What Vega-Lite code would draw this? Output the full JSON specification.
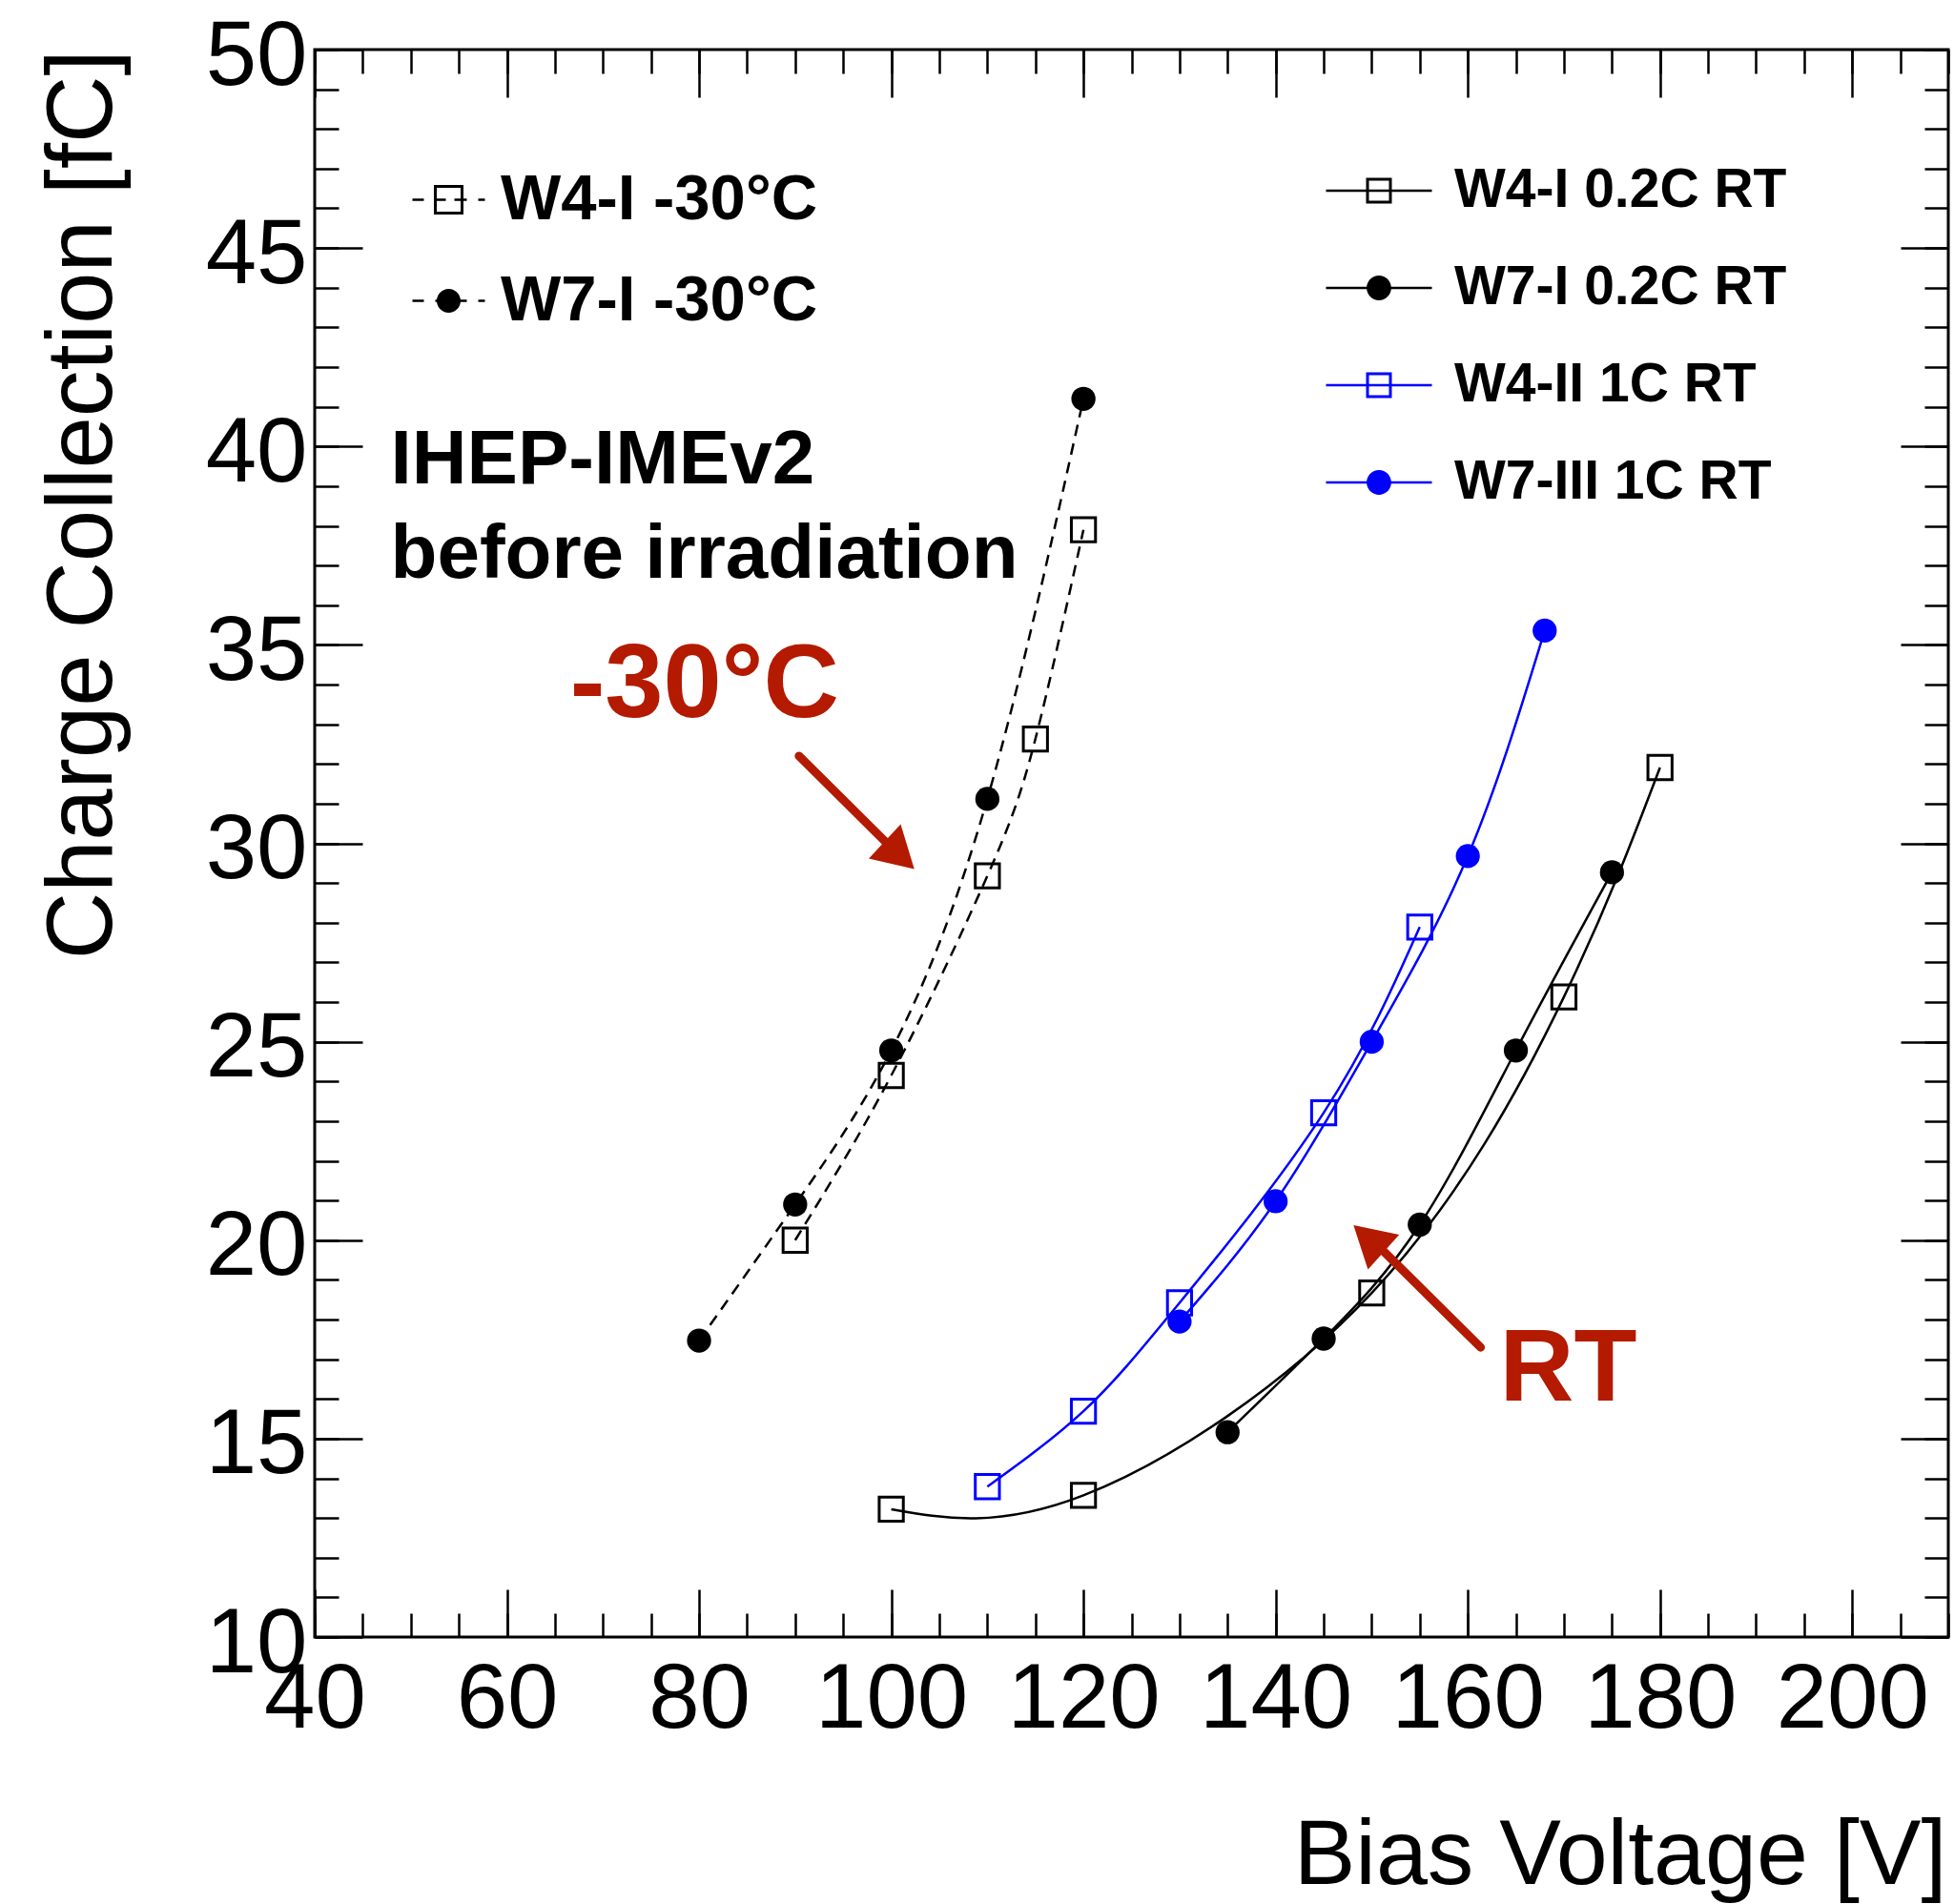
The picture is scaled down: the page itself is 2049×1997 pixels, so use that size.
{
  "$schema": "https://vega.github.io/schema/vega-lite/v6.json",
  "width": 1713,
  "height": 1665,
  "autosize": {"type": "none"},
  "padding": {"left": 330, "top": 52, "right": 6, "bottom": 280},
  "background": "white",
  "config": {
    "view": {"stroke": "black", "strokeWidth": 3},
    "axis": {"grid": false, "labelColor": "black", "titleColor": "black", "tickColor": "black", "labelFont": "Liberation Sans", "titleFont": "Liberation Sans"}
  },
  "data": {
    "values": [
      {"s": "W7-I -30°C", "V": 80, "Q": 17.47},
      {"s": "W7-I -30°C", "V": 90, "Q": 20.9},
      {"s": "W7-I -30°C", "V": 100, "Q": 24.78},
      {"s": "W7-I -30°C", "V": 110, "Q": 31.12},
      {"s": "W7-I -30°C", "V": 120, "Q": 41.2},
      {"s": "W4-I -30°C", "V": 90, "Q": 20.0},
      {"s": "W4-I -30°C", "V": 100, "Q": 24.15},
      {"s": "W4-I -30°C", "V": 110, "Q": 29.18},
      {"s": "W4-I -30°C", "V": 115, "Q": 32.63},
      {"s": "W4-I -30°C", "V": 120, "Q": 37.9},
      {"s": "W4-I 0.2C RT", "V": 100, "Q": 13.22},
      {"s": "W4-I 0.2C RT", "V": 120, "Q": 13.57},
      {"s": "W4-I 0.2C RT", "V": 150, "Q": 18.67},
      {"s": "W4-I 0.2C RT", "V": 170, "Q": 26.13},
      {"s": "W4-I 0.2C RT", "V": 180, "Q": 31.91},
      {"s": "W7-I 0.2C RT", "V": 135, "Q": 15.16},
      {"s": "W7-I 0.2C RT", "V": 145, "Q": 17.52},
      {"s": "W7-I 0.2C RT", "V": 155, "Q": 20.39},
      {"s": "W7-I 0.2C RT", "V": 165, "Q": 24.78},
      {"s": "W7-I 0.2C RT", "V": 175, "Q": 29.27},
      {"s": "W4-II 1C RT", "V": 110, "Q": 13.79},
      {"s": "W4-II 1C RT", "V": 120, "Q": 15.69},
      {"s": "W4-II 1C RT", "V": 130, "Q": 18.42},
      {"s": "W4-II 1C RT", "V": 145, "Q": 23.21},
      {"s": "W4-II 1C RT", "V": 155, "Q": 27.89},
      {"s": "W7-III 1C RT", "V": 130, "Q": 17.95},
      {"s": "W7-III 1C RT", "V": 140, "Q": 20.98},
      {"s": "W7-III 1C RT", "V": 150, "Q": 25.0},
      {"s": "W7-III 1C RT", "V": 160, "Q": 29.68},
      {"s": "W7-III 1C RT", "V": 168, "Q": 35.36}
    ]
  },
  "resolve": {
    "axis": {"x": "independent", "y": "independent"},
    "scale": {"shape": "independent", "color": "independent"}
  },
  "layer": [
    {
      "transform": [{"filter": {"field": "s", "oneOf": ["W4-I -30°C", "W7-I -30°C"]}}],
      "mark": {"type": "line", "interpolate": "natural", "color": "black", "strokeWidth": 2.5, "strokeDash": [12, 8]},
      "encoding": {
        "x": {"field": "V", "type": "quantitative", "scale": {"domain": [40, 210], "nice": false, "zero": false},
          "axis": {"orient": "bottom", "values": [40, 60, 80, 100, 120, 140, 160, 180, 200], "ticks": false, "domain": false,
            "labelFontSize": 96, "labelPadding": 18, "labelFlush": false, "labelOverlap": false, "labelBound": false, "labelBaseline": "top",
            "title": "Bias Voltage [V]", "titleFontSize": 97, "titleFontWeight": "normal", "titleAnchor": "end", "titleAlign": "right",
            "titleBaseline": "alphabetic", "titleX": 1711, "titleY": 258, "titleAngle": 0}},
        "y": {"field": "Q", "type": "quantitative", "scale": {"domain": [10, 50], "nice": false, "zero": false},
          "axis": {"orient": "left", "values": [10, 15, 20, 25, 30, 35, 40, 45, 50], "ticks": false, "domain": false,
            "labelFontSize": 96, "labelPadding": 8, "labelFlush": false, "labelOverlap": false, "labelBound": false, "labelBaseline": "middle", "labelOffset": 7,
            "title": "Charge Collection [fC]", "titleFontSize": 97.5, "titleFontWeight": "normal", "titleAngle": 270, "titleAlign": "right",
            "titleBaseline": "alphabetic", "titleX": -214, "titleY": 0}},
        "detail": {"field": "s"}
      }
    },
    {
      "transform": [{"filter": {"field": "s", "oneOf": ["W4-I 0.2C RT", "W7-I 0.2C RT"]}}],
      "mark": {"type": "line", "interpolate": "natural", "color": "black", "strokeWidth": 2.5},
      "encoding": {
        "x": {"field": "V", "type": "quantitative", "scale": {"domain": [40, 210], "nice": false, "zero": false},
          "axis": {"orient": "bottom", "values": [40, 60, 80, 100, 120, 140, 160, 180, 200], "ticks": true, "tickSize": -50, "tickWidth": 2.5, "labels": false, "domain": false, "title": null}},
        "y": {"field": "Q", "type": "quantitative", "scale": {"domain": [10, 50], "nice": false, "zero": false},
          "axis": {"orient": "left", "values": [10, 15, 20, 25, 30, 35, 40, 45, 50], "ticks": true, "tickSize": -50, "tickWidth": 2.5, "labels": false, "domain": false, "title": null}},
        "detail": {"field": "s"}
      }
    },
    {
      "transform": [{"filter": {"field": "s", "oneOf": ["W4-II 1C RT", "W7-III 1C RT"]}}],
      "mark": {"type": "line", "interpolate": "natural", "color": "#0000ff", "strokeWidth": 2.5},
      "encoding": {
        "x": {"field": "V", "type": "quantitative", "scale": {"domain": [40, 210], "nice": false, "zero": false},
          "axis": {"orient": "bottom", "values": [40, 45, 50, 55, 60, 65, 70, 75, 80, 85, 90, 95, 100, 105, 110, 115, 120, 125, 130, 135, 140, 145, 150, 155, 160, 165, 170, 175, 180, 185, 190, 195, 200, 205, 210], "ticks": true, "tickSize": -25, "tickWidth": 2.5, "labels": false, "domain": false, "title": null}},
        "y": {"field": "Q", "type": "quantitative", "scale": {"domain": [10, 50], "nice": false, "zero": false},
          "axis": {"orient": "left", "values": [10, 11, 12, 13, 14, 15, 16, 17, 18, 19, 20, 21, 22, 23, 24, 25, 26, 27, 28, 29, 30, 31, 32, 33, 34, 35, 36, 37, 38, 39, 40, 41, 42, 43, 44, 45, 46, 47, 48, 49, 50], "ticks": true, "tickSize": -25, "tickWidth": 2.5, "labels": false, "domain": false, "title": null}},
        "detail": {"field": "s"}
      }
    },
    {
      "transform": [{"filter": {"field": "s", "oneOf": ["W4-I -30°C", "W4-I 0.2C RT"]}}],
      "mark": {"type": "point", "shape": "square", "filled": false, "color": "black", "strokeWidth": 3, "size": 640, "opacity": 1},
      "encoding": {
        "x": {"field": "V", "type": "quantitative", "scale": {"domain": [40, 210], "nice": false, "zero": false},
          "axis": {"orient": "top", "values": [40, 60, 80, 100, 120, 140, 160, 180, 200], "ticks": true, "tickSize": -50, "tickWidth": 2.5, "labels": false, "domain": false, "title": null}},
        "y": {"field": "Q", "type": "quantitative", "scale": {"domain": [10, 50], "nice": false, "zero": false},
          "axis": {"orient": "right", "values": [10, 15, 20, 25, 30, 35, 40, 45, 50], "ticks": true, "tickSize": -50, "tickWidth": 2.5, "labels": false, "domain": false, "title": null}}
      }
    },
    {
      "transform": [{"filter": {"field": "s", "oneOf": ["W7-I -30°C", "W7-I 0.2C RT"]}}],
      "mark": {"type": "point", "shape": "circle", "filled": true, "color": "black", "strokeWidth": 0, "size": 640, "opacity": 1},
      "encoding": {
        "x": {"field": "V", "type": "quantitative", "scale": {"domain": [40, 210], "nice": false, "zero": false},
          "axis": {"orient": "top", "values": [40, 45, 50, 55, 60, 65, 70, 75, 80, 85, 90, 95, 100, 105, 110, 115, 120, 125, 130, 135, 140, 145, 150, 155, 160, 165, 170, 175, 180, 185, 190, 195, 200, 205, 210], "ticks": true, "tickSize": -25, "tickWidth": 2.5, "labels": false, "domain": false, "title": null}},
        "y": {"field": "Q", "type": "quantitative", "scale": {"domain": [10, 50], "nice": false, "zero": false},
          "axis": {"orient": "right", "values": [10, 11, 12, 13, 14, 15, 16, 17, 18, 19, 20, 21, 22, 23, 24, 25, 26, 27, 28, 29, 30, 31, 32, 33, 34, 35, 36, 37, 38, 39, 40, 41, 42, 43, 44, 45, 46, 47, 48, 49, 50], "ticks": true, "tickSize": -25, "tickWidth": 2.5, "labels": false, "domain": false, "title": null}}
      }
    },
    {
      "transform": [{"filter": {"field": "s", "oneOf": ["W4-II 1C RT"]}}],
      "mark": {"type": "point", "shape": "square", "filled": false, "color": "#0000ff", "strokeWidth": 3, "size": 640, "opacity": 1},
      "encoding": {
        "x": {"field": "V", "type": "quantitative", "scale": {"domain": [40, 210], "nice": false, "zero": false}, "axis": null},
        "y": {"field": "Q", "type": "quantitative", "scale": {"domain": [10, 50], "nice": false, "zero": false}, "axis": null}
      }
    },
    {
      "transform": [{"filter": {"field": "s", "oneOf": ["W7-III 1C RT"]}}],
      "mark": {"type": "point", "shape": "circle", "filled": true, "color": "#0000ff", "strokeWidth": 0, "size": 640, "opacity": 1},
      "encoding": {
        "x": {"field": "V", "type": "quantitative", "scale": {"domain": [40, 210], "nice": false, "zero": false}, "axis": null},
        "y": {"field": "Q", "type": "quantitative", "scale": {"domain": [10, 50], "nice": false, "zero": false}, "axis": null}
      }
    },
    {
      "data": {"values": [{"legA": "W4-I -30°C"}, {"legA": "W7-I -30°C"}]},
      "transform": [{"filter": "false"}],
      "mark": {"type": "point", "filled": true, "color": "black", "opacity": 1},
      "encoding": {
        "shape": {"field": "legA", "type": "nominal",
          "scale": {"domain": ["W4-I -30°C", "W7-I -30°C"],
            "range": [
              "M-0.517,-0.517H0.517V0.517H-0.517Z M-0.417,-0.417V0.417H0.417V-0.417Z M-1.267,-0.04H-0.867V0.04H-1.267Z M-0.467,-0.04H-0.1V0.04H-0.467Z M0.2,-0.04H0.633V0.04H0.2Z M1.033,-0.04H1.267V0.04H1.033Z",
              "M0.417,0A0.417,0.417,0,1,1,-0.417,0A0.417,0.417,0,1,1,0.417,0Z M-1.267,-0.04H-0.867V0.04H-1.267Z M-0.467,-0.04H-0.1V0.04H-0.467Z M0.2,-0.04H0.633V0.04H0.2Z M1.033,-0.04H1.267V0.04H1.033Z"
            ]},
          "legend": {"orient": "none", "legendX": 99, "legendY": 124, "title": null, "direction": "vertical", "padding": 0,
            "labelFont": "Liberation Sans", "labelFontSize": 67, "labelFontWeight": "bold", "labelColor": "black", "labelLimit": 2000,
            "symbolSize": 3600, "symbolOffset": 8, "labelOffset": 21, "rowPadding": 38, "symbolStrokeWidth": 0, "symbolFillColor": "black", "symbolOpacity": 1}}
      }
    },
    {
      "data": {"values": [{"legB": "W4-I 0.2C RT"}, {"legB": "W7-I 0.2C RT"}, {"legB": "W4-II 1C RT"}, {"legB": "W7-III 1C RT"}]},
      "transform": [{"filter": "false"}],
      "mark": {"type": "point", "filled": true, "opacity": 1},
      "encoding": {
        "shape": {"field": "legB", "type": "nominal",
          "scale": {"domain": ["W4-I 0.2C RT", "W7-I 0.2C RT", "W4-II 1C RT", "W7-III 1C RT"],
            "range": [
              "M-1.85,-0.04H1.85V0.04H-1.85Z M-0.45,-0.45H0.45V0.45H-0.45Z M-0.35,-0.35V0.35H0.35V-0.35Z",
              "M-1.85,-0.04H1.85V0.04H-1.85Z M0.43,0A0.43,0.43,0,1,1,-0.43,0A0.43,0.43,0,1,1,0.43,0Z",
              "M-1.85,-0.04H1.85V0.04H-1.85Z M-0.45,-0.45H0.45V0.45H-0.45Z M-0.35,-0.35V0.35H0.35V-0.35Z",
              "M-1.85,-0.04H1.85V0.04H-1.85Z M0.43,0A0.43,0.43,0,1,1,-0.43,0A0.43,0.43,0,1,1,0.43,0Z"
            ]},
          "legend": {"orient": "none", "legendX": 1060.5, "legendY": 118, "title": null, "direction": "vertical", "padding": 0,
            "labelFont": "Liberation Sans", "labelFontSize": 57, "labelFontWeight": "bold", "labelColor": "black", "labelLimit": 2000,
            "symbolSize": 3600, "symbolOffset": 25.5, "labelOffset": 49, "rowPadding": 44, "symbolStrokeWidth": 0, "symbolOpacity": 1}},
        "color": {"field": "legB", "type": "nominal",
          "scale": {"domain": ["W4-I 0.2C RT", "W7-I 0.2C RT", "W4-II 1C RT", "W7-III 1C RT"], "range": ["black", "black", "#0000ff", "#0000ff"]},
          "legend": {"orient": "none", "legendX": 1060.5, "legendY": 118, "title": null, "direction": "vertical", "padding": 0,
            "labelFont": "Liberation Sans", "labelFontSize": 57, "labelFontWeight": "bold", "labelColor": "black", "labelLimit": 2000,
            "symbolSize": 3600, "symbolOffset": 25.5, "labelOffset": 49, "rowPadding": 44, "symbolStrokeWidth": 0, "symbolOpacity": 1}}
      }
    },
    {
      "data": {"values": [{}]},
      "mark": {"type": "text", "text": ["IHEP-IMEv2", "before irradiation"], "lineHeight": 99, "font": "Liberation Sans", "fontWeight": "bold", "fontSize": 80, "align": "left", "baseline": "alphabetic", "color": "black"},
      "encoding": {
        "x": {"datum": 47.9, "type": "quantitative", "scale": {"domain": [40, 210], "nice": false, "zero": false}, "axis": null},
        "y": {"datum": 39.08, "type": "quantitative", "scale": {"domain": [10, 50], "nice": false, "zero": false}, "axis": null}
      }
    },
    {
      "data": {"values": [{}]},
      "mark": {"type": "text", "text": "-30°C", "font": "Liberation Sans", "fontWeight": "bold", "fontSize": 110, "align": "left", "baseline": "alphabetic", "color": "#b41a00"},
      "encoding": {
        "x": {"datum": 66.56, "type": "quantitative", "scale": {"domain": [40, 210], "nice": false, "zero": false}, "axis": null},
        "y": {"datum": 33.19, "type": "quantitative", "scale": {"domain": [10, 50], "nice": false, "zero": false}, "axis": null}
      }
    },
    {
      "data": {"values": [{}]},
      "mark": {"type": "text", "text": "RT", "font": "Liberation Sans", "fontWeight": "bold", "fontSize": 108, "align": "left", "baseline": "alphabetic", "color": "#b41a00"},
      "encoding": {
        "x": {"datum": 163.3, "type": "quantitative", "scale": {"domain": [40, 210], "nice": false, "zero": false}, "axis": null},
        "y": {"datum": 15.95, "type": "quantitative", "scale": {"domain": [10, 50], "nice": false, "zero": false}, "axis": null}
      }
    },
    {
      "data": {"values": [{}]},
      "mark": {"type": "rule", "color": "#b41a00", "strokeWidth": 9, "strokeCap": "round"},
      "encoding": {
        "x": {"datum": 90.4, "type": "quantitative", "scale": {"domain": [40, 210], "nice": false, "zero": false}, "axis": null},
        "y": {"datum": 32.2, "type": "quantitative", "scale": {"domain": [10, 50], "nice": false, "zero": false}, "axis": null},
        "x2": {"datum": 100.02},
        "y2": {"datum": 29.89}
      }
    },
    {
      "data": {"values": [{}]},
      "mark": {"type": "point", "shape": "triangle-up", "filled": true, "color": "#b41a00", "strokeWidth": 0, "size": 2400, "angle": 133, "opacity": 1},
      "encoding": {
        "x": {"datum": 100.86, "type": "quantitative", "scale": {"domain": [40, 210], "nice": false, "zero": false}, "axis": null},
        "y": {"datum": 29.7, "type": "quantitative", "scale": {"domain": [10, 50], "nice": false, "zero": false}, "axis": null}
      }
    },
    {
      "data": {"values": [{}]},
      "mark": {"type": "rule", "color": "#b41a00", "strokeWidth": 9, "strokeCap": "round"},
      "encoding": {
        "x": {"datum": 161.33, "type": "quantitative", "scale": {"domain": [40, 210], "nice": false, "zero": false}, "axis": null},
        "y": {"datum": 17.3, "type": "quantitative", "scale": {"domain": [10, 50], "nice": false, "zero": false}, "axis": null},
        "x2": {"datum": 150.7},
        "y2": {"datum": 19.85}
      }
    },
    {
      "data": {"values": [{}]},
      "mark": {"type": "point", "shape": "triangle-up", "filled": true, "color": "#b41a00", "strokeWidth": 0, "size": 2400, "angle": 312, "opacity": 1},
      "encoding": {
        "x": {"datum": 149.67, "type": "quantitative", "scale": {"domain": [40, 210], "nice": false, "zero": false}, "axis": null},
        "y": {"datum": 20.04, "type": "quantitative", "scale": {"domain": [10, 50], "nice": false, "zero": false}, "axis": null}
      }
    }
  ]
}
